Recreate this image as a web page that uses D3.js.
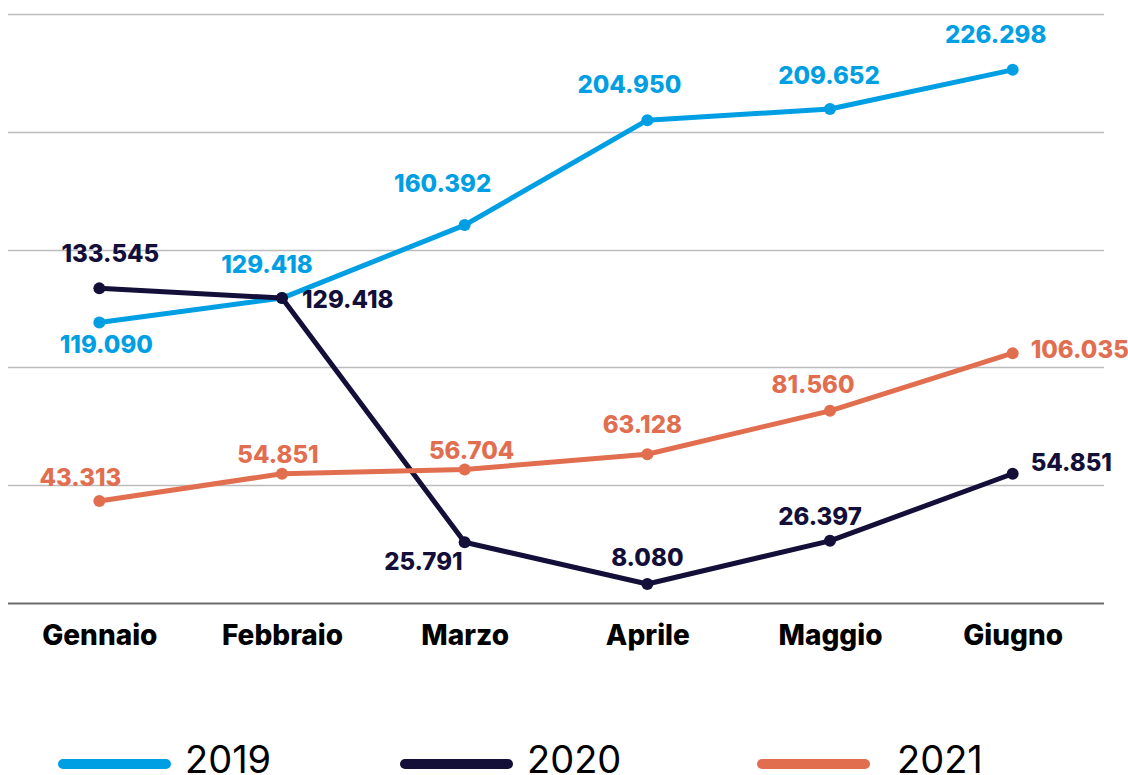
<!DOCTYPE html>
<html>
<head>
<meta charset="utf-8">
<script src="https://cdn.jsdelivr.net/npm/d3@7"></script>
<style>
  body { margin: 0; background: #fff; }
  svg { display: block; font-family: Inter, "Noto Sans", sans-serif; }
</style>
</head>
<body>
<div id="chart"></div>
<script>
// Data
const months = ["Gennaio", "Febbraio", "Marzo", "Aprile", "Maggio", "Giugno"];
const years = ["2019", "2020", "2021"];
const values2019 = [119.090, 129.418, 160.392, 204.950, 209.652, 226.298];
const values2020 = [133.545, 129.418, 25.791, 8.080, 26.397, 54.851];
const values2021 = [43.313, 54.851, 56.704, 63.128, 81.560, 106.035];
// shown labels (2020 Febbraio label in the source reads 129.418)
const labels2019 = ["119.090", "129.418", "160.392", "204.950", "209.652", "226.298"];
const labels2020 = ["133.545", "129.418", "25.791", "8.080", "26.397", "54.851"];
const labels2021 = ["43.313", "54.851", "56.704", "63.128", "81.560", "106.035"];
const yTicks = [0, 50, 100, 150, 200, 250];

const colors = ["#009fe3", "#130f39", "#e26e50"];
// where each value label sits, relative to its point: [dx, dy, anchor]
const labelPlace = [
  [[7, 31, "middle"], [-15, -25, "middle"], [-22, -33, "middle"], [-18, -27, "middle"], [-1, -25, "middle"], [-17, -27, "middle"]],
  [[11, -26, "middle"], [20, 10, "start"], [-2, 28, "end"], [0, -18, "middle"], [-10, -16, "middle"], [18, -3, "start"]],
  [[-19, -15, "middle"], [-4, -11, "middle"], [7, -10, "middle"], [-5, -21, "middle"], [-17, -18, "middle"], [18, 5, "start"]]
];

const series = [
  { name: years[0], values: values2019, labels: labels2019 },
  { name: years[1], values: values2020, labels: labels2020 },
  { name: years[2], values: values2021, labels: labels2021 }
];

const W = 1128, H = 775;
const svg = d3.select("#chart").append("svg").attr("width", W).attr("height", H);

const x = d3.scalePoint().domain(months).range([8, 1104]).padding(0.5);
const y = d3.scaleLinear().domain([0, 250]).range([603, 14]);

// Gridlines
svg.append("g")
  .selectAll("line")
  .data(yTicks)
  .enter()
  .append("line")
  .attr("x1", 8)
  .attr("x2", 1104)
  .attr("y1", d => Math.round(y(d)) + 0.5)
  .attr("y2", d => Math.round(y(d)) + 0.5)
  .attr("stroke", d => (d === 0 ? "#6b6b6b" : "#bcbcbc"))
  .attr("stroke-width", d => (d === 0 ? 2 : 1.3));

// X axis labels
const xAxis = svg.append("g")
  .attr("transform", `translate(0,${y(0)})`)
  .call(d3.axisBottom(x).tickSize(0).tickPadding(22));
xAxis.select(".domain").remove();
xAxis.selectAll("text")
  .attr("font-family", "Inter, sans-serif")
  .attr("font-size", 28)
  .attr("font-weight", 800)
  .attr("fill", "#000");

const line = d3.line()
  .x((d, i) => x(months[i]))
  .y(d => y(d));

const grp = svg.selectAll(".series")
  .data(series)
  .enter()
  .append("g")
  .attr("class", "series");

grp.append("path")
  .attr("d", d => line(d.values))
  .attr("fill", "none")
  .attr("stroke", (d, i) => colors[i])
  .attr("stroke-width", 5)
  .attr("stroke-linejoin", "round");

grp.each(function (s, si) {
  const g = d3.select(this);
  g.selectAll("circle")
    .data(s.values)
    .enter()
    .append("circle")
    .attr("cx", (d, i) => x(months[i]))
    .attr("cy", d => y(d))
    .attr("r", 6)
    .attr("fill", colors[si]);

  g.selectAll("text")
    .data(s.values)
    .enter()
    .append("text")
    .attr("x", (d, i) => x(months[i]) + labelPlace[si][i][0])
    .attr("y", (d, i) => y(d) + labelPlace[si][i][1])
    .attr("text-anchor", (d, i) => labelPlace[si][i][2])
    .attr("font-size", 24)
    .attr("font-weight", 800)
    .attr("fill", colors[si])
    .text((d, i) => s.labels[i]);
});

// Legend
const legendX = [58, 400, 757];
const legend = svg.selectAll(".legend")
  .data(years)
  .enter()
  .append("g")
  .attr("class", "legend")
  .attr("transform", (d, i) => `translate(${legendX[i]},764)`);

legend.append("line")
  .attr("x1", 5)
  .attr("x2", 108)
  .attr("stroke", (d, i) => colors[i])
  .attr("stroke-width", 10)
  .attr("stroke-linecap", "round");

legend.append("text")
  .attr("x", (d, i) => (i === 2 ? 140 : 127))
  .attr("y", 9)
  .attr("font-size", 38)
  .attr("font-weight", 400)
  .attr("fill", "#000")
  .text(d => d);
</script>
</body>
</html>
